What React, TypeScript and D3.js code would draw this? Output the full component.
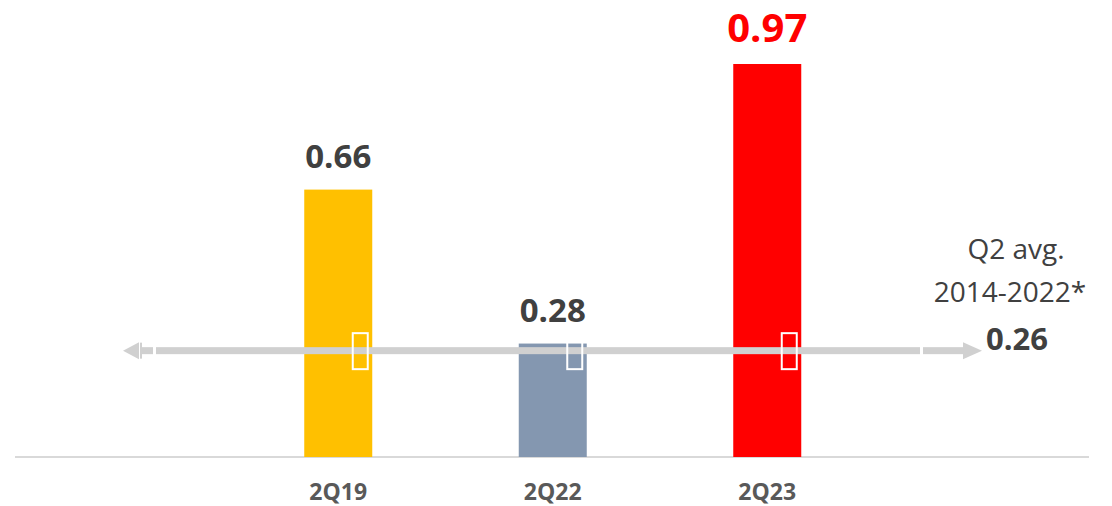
import React from "react";
import * as d3 from "d3";

const categories = ["2Q19", "2Q22", "2Q23"];
const values = [0.66, 0.28, 0.97];
const valueLabels = ["0.66", "0.28", "0.97"];
const barColors = ["#FFC000", "#8497B0", "#FF0000"];
const labelColors = ["#404040", "#404040", "#FF0000"];
const avgValue = 0.26;
const avgLabelLines = ["Q2 avg.", "2014-2022*"];
const avgValueLabel = "0.26";

const W = 1112;
const H = 506;
const FONT = "'Open Sans', 'Liberation Sans', sans-serif";

export default function App() {
  const x = d3
    .scaleBand<string>()
    .domain(categories)
    .range([231, 874.5])
    .paddingInner(0.683)
    .paddingOuter(0.3415);
  const y = d3.scaleLinear().domain([0, 0.97]).range([457, 64]);
  const bw = x.bandwidth();
  const avgY = y(avgValue) - 1;

  const lineColor = "#D0D0D0";
  const leftTip = 123;
  const rightTip = 982;

  return (
    <svg
      width={W}
      height={H}
      style={{ position: "absolute", left: 0, top: 0, display: "block" }}
      fontFamily={FONT}
    >
      <rect width={W} height={H} fill="#fff" />
      {/* baseline */}
      <line x1={15} x2={1089} y1={y(0)} y2={y(0)} stroke="#D9D9D9" strokeWidth={2} />
      {/* bars */}
      {categories.map((c, i) => (
        <rect
          key={c}
          x={x(c)!}
          y={y(values[i])}
          width={bw}
          height={y(0) - y(values[i])}
          fill={barColors[i]}
        />
      ))}
      {/* value labels */}
      {categories.map((c, i) => (
        <text
          key={"v" + c}
          x={x(c)! + bw / 2}
          y={y(values[i]) - 22}
          textAnchor="middle"
          fontSize={i === 2 ? 40 : 33}
          fontWeight="bold"
          fill={labelColors[i]}
        >
          {valueLabels[i]}
        </text>
      ))}
      {/* average line with arrows */}
      <g>
        <rect x={leftTip + 19} y={avgY - 3.5} width={11} height={7} fill={lineColor} />
        <rect x={leftTip + 17} y={avgY - 8} width={2} height={16} fill={lineColor} />
        <rect x={156} y={avgY - 3.5} width={764} height={7} fill={lineColor} />
        <rect x={923} y={avgY - 3.5} width={41} height={7} fill={lineColor} />
        <path
          d={`M${leftTip},${avgY} L${leftTip + 16},${avgY - 8.5} L${leftTip + 16},${avgY + 8.5} Z`}
          fill={lineColor}
        />
        <path
          d={`M${rightTip},${avgY} L${rightTip - 19},${avgY - 8.5} L${rightTip - 19},${avgY + 8.5} Z`}
          fill={lineColor}
        />
      </g>
      {/* small white boxes */}
      {categories.map((c, i) => (
        <rect
          key={"b" + c}
          x={x(c)! + bw / 2 + 14.5}
          y={avgY - 17.5}
          width={15}
          height={36}
          fill="none"
          stroke="#fff"
          strokeWidth={2}
        />
      ))}
      {/* category labels */}
      {categories.map((c) => (
        <text
          key={"c" + c}
          x={x(c)! + bw / 2}
          y={500}
          textAnchor="middle"
          fontSize={23}
          fontWeight="bold"
          fill="#595959"
        >
          {c}
        </text>
      ))}
      {/* average annotation */}
      <text x={1016} y={259} textAnchor="middle" fontSize={28} fill="#404040">
        {avgLabelLines[0]}
      </text>
      <text x={1010} y={302} textAnchor="middle" fontSize={28} fill="#404040">
        {avgLabelLines[1]}
      </text>
      <text x={1017} y={350} textAnchor="middle" fontSize={31} fontWeight="bold" fill="#404040">
        {avgValueLabel}
      </text>
    </svg>
  );
}
